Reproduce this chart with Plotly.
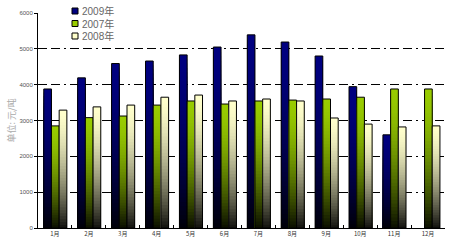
import plotly.graph_objects as go

# ---- data ----
months = ["1月", "2月", "3月", "4月", "5月", "6月", "7月", "8月", "9月", "10月", "11月", "12月"]
series_names = ["2009年", "2007年", "2008年"]
v2009 = [3880, 4190, 4590, 4660, 4830, 5050, 5390, 5190, 4800, 3945, 2600, None]
v2007 = [2850, 3080, 3125, 3430, 3545, 3460, 3545, 3570, 3600, 3650, 3880, 3880]
v2008 = [3290, 3380, 3430, 3650, 3710, 3545, 3600, 3545, 3070, 2900, 2820, 2850]
y_ticks = [0, 1000, 2000, 3000, 4000, 5000, 6000]
grid_ticks = [1000, 2000, 3000, 4000, 5000]
y_title = "单位: 元/吨"

# ---- styles ----
series_vals = [v2009, v2007, v2008]
top_colors = [(0, 0, 128), (153, 204, 0), (255, 255, 204)]
bar_w = 0.227
offsets = [-0.33, -0.103, 0.124]
N = 40

W, H = 450, 250
ML, MR, MT, MB = 38, 5, 13, 22
PW, PH = W - ML - MR, H - MT - MB

fig = go.Figure()

def shade(rgb, t):
    b = 1 - 0.93 * (t ** 1.6)
    return "rgb(%d,%d,%d)" % tuple(int(round(c * b)) for c in rgb)

for vals, rgb, off in zip(series_vals, top_colors, offsets):
    for k in range(N):
        f = 1 - k / N
        t = (k + 0.5) / N
        ys = [None if v is None else v * f for v in vals]
        fig.add_trace(go.Bar(
            x=months, y=ys, width=bar_w, offset=off,
            marker=dict(color=shade(rgb, t), line=dict(width=0)),
            showlegend=False, hoverinfo="skip"))
    # outline
    fig.add_trace(go.Bar(
        x=months, y=vals, width=bar_w, offset=off,
        marker=dict(color="rgba(0,0,0,0)", line=dict(color="black", width=1)),
        showlegend=False, hoverinfo="skip"))

# invisible trace for the labelled overlay axis
fig.add_trace(go.Scatter(x=[months[0]], y=[None], yaxis="y2",
                         showlegend=False, hoverinfo="skip"))

def px(xp):
    return (xp - ML) / PW

def py(yp):
    return (H - MB - yp) / PH

shapes = []
annotations = []
legend_rows = [11, 23.5, 36]
for name, rgb, yc in zip(series_names, top_colors, legend_rows):
    shapes.append(dict(type="rect", xref="paper", yref="paper",
                       x0=px(72), x1=px(78), y0=py(yc + 3), y1=py(yc - 3),
                       fillcolor="rgb(%d,%d,%d)" % rgb,
                       line=dict(color="black", width=1)))
    annotations.append(dict(text=name, xref="paper", yref="paper",
                            x=px(80), y=py(yc), xanchor="left", yanchor="middle",
                            showarrow=False,
                            font=dict(size=10, color="#666666",
                                      family="Liberation Sans, Noto Sans CJK SC")))

annotations.append(dict(text=y_title, xref="paper", yref="paper",
                        x=0, y=0.5, xshift=-27, textangle=-90,
                        xanchor="center", yanchor="middle", showarrow=False,
                        font=dict(size=9, color="#aaaaaa",
                                  family="Noto Sans CJK SC")))

fig.update_layout(
    width=W, height=H,
    margin=dict(l=ML, r=MR, t=MT, b=MB, pad=0),
    paper_bgcolor="white", plot_bgcolor="white",
    barmode="overlay",
    showlegend=False,
    shapes=shapes,
    annotations=annotations,
    xaxis=dict(type="category", categoryorder="array", categoryarray=months,
               range=[-0.5, 11.5], showline=True, linecolor="black", linewidth=1,
               ticks="inside", tickson="boundaries", ticklen=3, tickcolor="black",
               showgrid=False, zeroline=False,
               tickfont=dict(size=6, color="#333333",
                             family="Noto Sans CJK SC")),
    yaxis=dict(range=[0, 6000], tickvals=grid_ticks, showticklabels=False,
               ticks="", showgrid=True, gridcolor="black", gridwidth=1,
               griddash="9px,4px,9px,4px,2px,4px", zeroline=False, showline=False),
    yaxis2=dict(overlaying="y", side="left", anchor="x", range=[0, 6000],
                tickvals=y_ticks, ticks="outside", ticklen=3, tickcolor="black",
                showline=True, linecolor="black", linewidth=1,
                showgrid=False, zeroline=False,
                tickfont=dict(size=6, color="#555555",
                              family="Liberation Sans")),
)

fig.write_html("out.html")
